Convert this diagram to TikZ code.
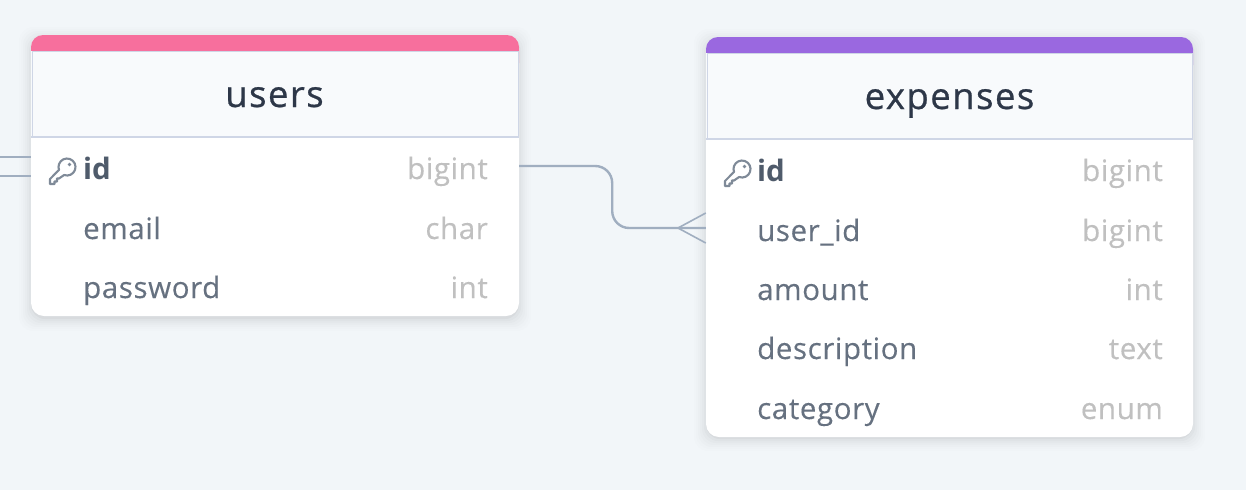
\documentclass[tikz,border=0pt]{standalone}
\usepackage{fontspec}
\setmainfont{Open Sans}
\usepackage{xcolor}
\usetikzlibrary{positioning, calc}

\definecolor{canvasbg}{HTML}{F2F6F9}
\definecolor{headbg}{HTML}{F8FAFC}
\definecolor{headline}{HTML}{CFD6E6}
\definecolor{linkgray}{HTML}{A0AEC0}
\definecolor{titleink}{HTML}{2D3748}
\definecolor{fieldink}{HTML}{667180}
\definecolor{pkink}{HTML}{4F5B6B}
\definecolor{keyink}{HTML}{7F8A98}
\definecolor{typeink}{HTML}{C0C0C0}
\definecolor{userspink}{HTML}{F76F9D}
\definecolor{expensepurple}{HTML}{9A68E0}

\begin{document}
\begin{tikzpicture}[
    x=1pt, y=-1pt,
    tablebody/.style={rectangle, fill=white, rounded corners=13pt, minimum width=488pt, inner sep=0pt},
    tabletitle/.style={font=\fontsize{36.5}{38}\selectfont\addfontfeature{LetterSpace=4,FakeBold=0.7}, text=titleink, anchor=base, inner sep=0pt},
    field/.style={font=\fontsize{29.5}{32}\selectfont\addfontfeature{LetterSpace=2,FakeBold=0.2}, text=fieldink, anchor=base west, inner sep=0pt},
    pkfield/.style={field, font=\fontsize{29.5}{32}\selectfont\bfseries, text=pkink},
    fieldtype/.style={font=\fontsize{29.5}{32}\selectfont\addfontfeature{LetterSpace=2,FakeBold=0.2}, text=typeink, anchor=base east, inner sep=0pt},
    rowbox/.style={rectangle, minimum width=488pt, minimum height=30pt, inner sep=0pt},
    link/.style={draw=linkgray, line width=2.4pt},
    keyicon/.pic={
        \begin{scope}[yscale=-1]
        \draw[line width=2.1pt, draw=keyink, line join=round]
            (2.1,-3) arc[start angle=-110, end angle=200, radius=8.5]
            -- (-12,-7) -- (-12,-12) -- (-7.5,-12) -- (-7.5,-9.5) -- (-5,-9.5) -- (-5,-6.5) -- (-3,-6.5) -- cycle;
        \fill[keyink] (7.5,7.5) circle (1.8);
        \end{scope}
    }
]

\useasboundingbox (0,0) rectangle (1246,490);
\fill[canvasbg] (0,0) rectangle (1246,490);

% Soft shadows
\foreach \spread/\op in {12/0.006, 10/0.008, 8/0.01, 6/0.012, 4/0.016, 2/0.02, 0/0.03} {
    \fill[black, opacity=\op, rounded corners=14pt] (31-\spread,36-\spread+3) rectangle (519+\spread,316+\spread+3);
    \fill[black, opacity=\op, rounded corners=14pt] (706-\spread,38-\spread+3) rectangle (1193+\spread,436+\spread+3);
}

% Links on the left
\coordinate (stubtop) at (0,157);
\coordinate (stubbottom) at (0,176);

% Users table
\node[tablebody, minimum height=281pt] (usersbody) at (275,175.5) {};
\fill[userspink, rounded corners=12pt] (31,35) rectangle (519,75);
\fill[headbg] (31,50.5) rectangle (519,137);
\draw[headline, line width=1pt] (32,51) -- (518,51);
\draw[headline, line width=0.8pt] (32,51) -- (32,137);
\draw[headline, line width=0.8pt] (518,51) -- (518,137);
\draw[headline, line width=1.6pt] (31,137) -- (519,137);
\node[tabletitle] (userstitle) at (274.5,107) {users};
\node[rowbox] (usersid) at (275,166) {};
\node[rowbox] (usersemail) at (275,228) {};
\node[rowbox] (userspassword) at (275,287) {};
\pic at (62,172) {keyicon};
\node[pkfield] (usersidname) at (83,179) {id};
\node[field] (usersemailname) at (83,239) {email};
\node[field] (userspasswordname) at (83,298) {password};
\node[fieldtype] (usersidtype) at (488,179) {bigint};
\node[fieldtype] (usersemailtype) at (488,239) {char};
\node[fieldtype] (userspasswordtype) at (488,298) {int};

% Expenses table
\node[tablebody, minimum width=487pt, minimum height=399pt] (expbody) at (949.5,237.5) {};
\fill[expensepurple, rounded corners=12pt] (706,37) rectangle (1193,77);
\fill[headbg] (706,52.5) rectangle (1193,139);
\draw[headline, line width=1pt] (707,53) -- (1192,53);
\draw[headline, line width=0.8pt] (707,53) -- (707,139);
\draw[headline, line width=0.8pt] (1192,53) -- (1192,139);
\draw[headline, line width=1.6pt] (706,139) -- (1193,139);
\node[tabletitle] (exptitle) at (949.5,109) {expenses};
\node[rowbox, minimum width=487pt] (expid) at (949.5,170) {};
\node[rowbox, minimum width=487pt] (expuserid) at (949.5,228) {};
\node[rowbox, minimum width=487pt] (expamount) at (949.5,289) {};
\node[rowbox, minimum width=487pt] (expdescription) at (949.5,348) {};
\node[rowbox, minimum width=487pt] (expcategory) at (949.5,408) {};
\pic at (737,174) {keyicon};
\node[pkfield] (expidname) at (757,181) {id};
\node[field] (expuseridname) at (757,241) {user\_id};
\node[field] (expamountname) at (757,300) {amount};
\node[field] (expdescriptionname) at (757,359) {description};
\node[field] (expcategoryname) at (757,419) {category};
\node[fieldtype] (expidtype) at (1163,181) {bigint};
\node[fieldtype] (expuseridtype) at (1163,241) {bigint};
\node[fieldtype] (expamounttype) at (1163,300) {int};
\node[fieldtype] (expdescriptiontype) at (1163,359) {text};
\node[fieldtype] (expcategorytype) at (1163,419) {enum};

% Connectors
\draw[link] (stubtop) -- (stubtop -| usersbody.west);
\draw[link] (stubbottom) -- (stubbottom -| usersbody.west);
\draw[link, rounded corners=17pt] (usersid.east) -- ++(93,0) |- (expuserid.west);
\coordinate (crowtip) at (678,228);
\draw[link, line width=1.6pt] (crowtip) -- ($(expuserid.west)+(0,-15)$);
\draw[link, line width=1.6pt] (crowtip) -- ($(expuserid.west)+(0,15)$);

\end{tikzpicture}
\end{document}
